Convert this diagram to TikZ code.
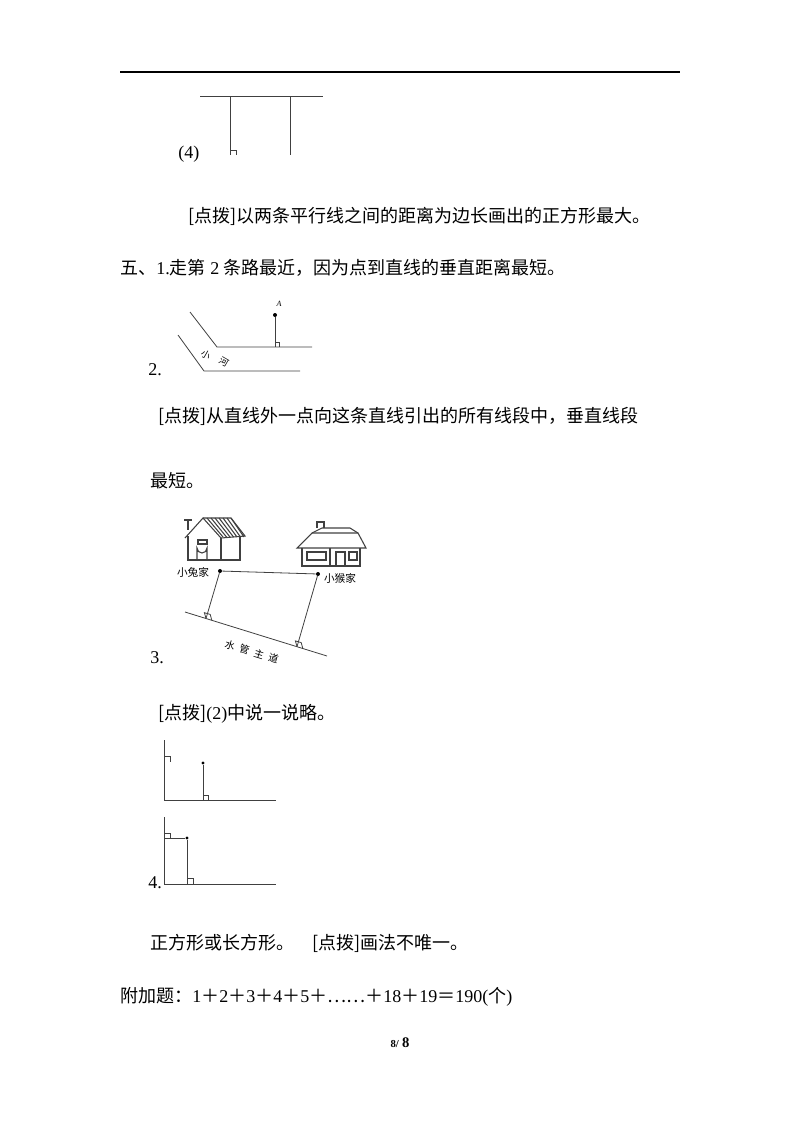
\documentclass[tikz,border=0pt]{standalone}
\usepackage{fontspec}
\setmainfont{Liberation Serif}
\newfontfamily\cjk{Noto Sans CJK SC}
\begin{document}
\begin{tikzpicture}[x=0.75pt,y=-0.75pt,
  ln/.style={line width=0.6pt,black!75},
  txt/.style={anchor=base west,inner sep=0pt,font=\fontsize{13.5}{16}\selectfont},
  sm/.style={inner sep=0pt,font=\fontsize{7}{8}\selectfont\cjk},
  dot/.style={circle,fill=black,inner sep=0pt,minimum size=3pt}]
\useasboundingbox (0,0) rectangle (800,1132);
\draw[line width=1.2pt] (120,72) -- (680,72);
% (4)
\draw[ln] (200,96) -- (323,96);
\draw[ln] (230,96) -- (230,155);
\draw[ln] (290,96) -- (290,155);
\draw[ln] (230,150) -- (236,150) -- (236,155);
\node[txt] (l4) at (178,158) {(4)};
\node[txt] (t1) at (188,222) {{\cjk [点拨]以两条平行线之间的距离为边长画出的正方形最大。}};
\node[txt] (t2) at (120,274) {{\cjk 五、}1.{\cjk 走第} 2 {\cjk 条路最近，因为点到直线的垂直距离最短。}};
% fig 2
\draw[ln] (190,312) -- (217,347) -- (312,347);
\draw[ln] (178,335) -- (204,371) -- (300,371);
\node[dot] (A) at (275,315) {};
\coordinate (Af) at (275,347);
\draw[ln] (A) -- (Af);
\draw[ln] (275,342) -- (279,342) -- (279,347);
\node[inner sep=0pt,font=\fontsize{6}{7}\selectfont\itshape] (Al) at (279,304) {A};
\node[sm,rotate=-30] (r1) at (206,355) {小};
\node[sm,rotate=-30] (r2) at (224,362) {河};
\node[txt] (l2) at (148,375) {2.};
\node[txt] (t3) at (158,422) {{\cjk [点拨]从直线外一点向这条直线引出的所有线段中，垂直线段}};
\node[txt] (t4) at (150,487) {{\cjk 最短。}};
% fig 3 houses
\begin{scope}[ln,line width=0.8pt]
 % rabbit house
 \draw (185,538) -- (203,518) -- (221,538);
 \draw (203,518) -- (231,518) -- (245,536) -- (221,538);
 \draw (188,536) -- (188,560) -- (240,560) -- (240,536);
 \draw (221,538) -- (221,560);
 \foreach \i in {0,...,6} \draw (207+\i*4,518) -- (223+\i*3.5,537);
 \draw (197,560) -- (197,548) arc (180:0:5) -- (207,560);
 \draw (198,540) rectangle (207,544);
 \draw (188,520) -- (188,530) (184,520) -- (192,520);
 % monkey house
 \draw (297,548) -- (312,533) -- (358,533) -- (366,548) -- cycle;
 \draw (312,533) -- (322,528) -- (350,528) -- (358,533);
 \draw (302,548) -- (302,566) -- (360,566) -- (360,548);
 \draw (330,548) -- (330,566);
 \draw (307,552) rectangle (326,560);
 \draw (336,552) rectangle (345,566);
 \draw (349,552) rectangle (357,560);
 \draw (317,528) -- (317,522) -- (324,522) -- (324,528);
\end{scope}
\node[sm,font=\fontsize{8}{9}\selectfont\cjk] (rab) at (193,572) {小兔家};
\node[sm,font=\fontsize{8}{9}\selectfont\cjk] (mon) at (340,578) {小猴家};
\node[dot] (P) at (220,571) {};
\node[dot] (Q) at (318,574) {};
\draw[ln] (P) -- (Q);
\coordinate (R1) at (185,612);
\coordinate (R2) at (327,656);
\draw[ln] (R1) -- (R2);
\coordinate (F1) at (206,618.5);
\coordinate (F2) at (297,646.7);
\draw[ln] (P) -- (F1);
\draw[ln] (Q) -- (F2);
\draw[ln] (F1) -- ++(-1.6,-5.8) -- ++(5.8,1.7) -- ++(1.6,5.8);
\draw[ln] (F2) -- ++(-1.6,-5.8) -- ++(5.8,1.7) -- ++(1.6,5.8);
\foreach \c/\k in {水/0,管/1,主/2,道/3}
  \node[sm,font=\fontsize{7.5}{9}\selectfont\cjk,rotate=-17] (road\k) at (230+\k*14.5,645+\k*4.4) {\c};
\node[txt] (l3) at (150,663) {3.};
\node[txt] (t5) at (158,719) {{\cjk [点拨]}(2){\cjk 中说一说略。}};
% fig 4a
\draw[ln] (164,740) -- (164,800) -- (276,800);
\draw[ln] (164,756) -- (170,756) -- (170,762);
\node[dot,minimum size=2.5pt] (B) at (203,763) {};
\coordinate (Bf) at (203,800);
\draw[ln] (B) -- (Bf);
\draw[ln] (203,795) -- (208,795) -- (208,800);
% fig 4b
\draw[ln] (164,817) -- (164,884) -- (276,884);
\node[dot,minimum size=2.5pt] (C) at (187,838) {};
\coordinate (Cl) at (164,838);
\coordinate (Cf) at (187,884);
\draw[ln] (Cl) -- (C) -- (Cf);
\draw[ln] (164,833) -- (170,833) -- (170,838);
\draw[ln] (187,878) -- (193,878) -- (193,884);
\node[txt] (l4b) at (148,888) {4.};
\node[txt] (t6) at (150,949) {{\cjk 正方形或长方形。\quad [点拨]画法不唯一。}};
\node[txt] (t7) at (120,1002) {{\cjk 附加题：}1{\cjk ＋}2{\cjk ＋}3{\cjk ＋}4{\cjk ＋}5{\cjk ＋}{\cjk ……}{\cjk ＋}18{\cjk ＋}19{\cjk ＝}190({\cjk 个})};
\node[inner sep=0pt,font=\bfseries] (pg) at (400,1043) {{\fontsize{8}{9}\selectfont 8/} \fontsize{11}{12}\selectfont 8};
\end{tikzpicture}
\end{document}
